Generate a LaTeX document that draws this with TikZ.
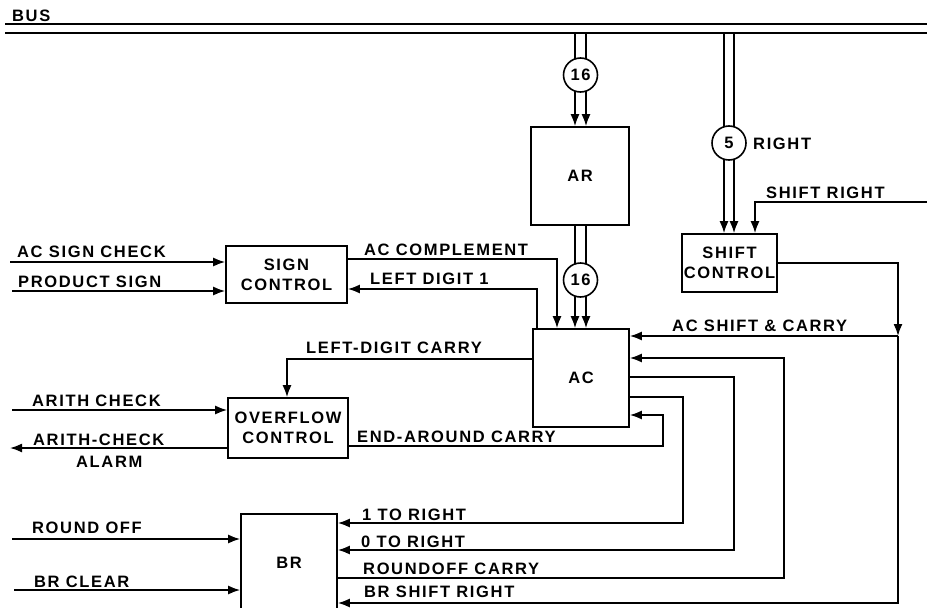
\documentclass[tikz,border=0pt]{standalone}
\usepackage{fontspec}
\newfontfamily\lblfont[LetterSpace=10]{Liberation Sans}
\usetikzlibrary{arrows.meta}
\begin{document}
\begin{tikzpicture}[x=1pt,y=-1pt,
  wire/.style={line width=1.6pt},
  arr/.style={wire,-{Latex[length=12pt,width=9pt]}},
  busline/.style={line width=1.9pt},
  box/.style={draw,line width=1.7pt,inner sep=0pt,align=center,
    font=\lblfont\bfseries\fontsize{16.5}{20}\selectfont},
  lab/.style={anchor=base west,inner sep=0pt,
    font=\lblfont\bfseries\fontsize{16.5}{18}\selectfont},
  ring/.style={circle,draw,fill=white,line width=1.6pt,minimum size=34pt,inner sep=0pt,
    font=\lblfont\bfseries\fontsize{16.5}{18}\selectfont}]
\useasboundingbox (0,0) rectangle (927,608);

% bus
\coordinate (b1l) at (5,24); \coordinate (b1r) at (927,24);
\coordinate (b2l) at (5,33); \coordinate (b2r) at (927,33);
\draw[busline] (b1l) -- (b1r);
\draw[busline] (b2l) -- (b2r);
\node[lab] (lbus) at (12,21) {BUS};

% boxes
\node[box,minimum width=98pt,minimum height=98pt] (ar) at (580,176) {AR};
\node[box,minimum width=96pt,minimum height=98pt] (ac) at (581,378) {AC};
\node[box,minimum width=121pt,minimum height=57pt] (sc) at (286.5,274.5) {SIGN\\CONTROL};
\node[box,minimum width=95pt,minimum height=58pt] (sh) at (729.5,263) {SHIFT\\CONTROL};
\node[box,minimum width=120pt,minimum height=60pt] (ov) at (288,428) {OVERFLOW\\CONTROL};
\node[box,minimum width=96pt,minimum height=130pt,anchor=north] (br) at (289,513) {};
\node[box,draw=none] (brtext) at (289,563) {BR};

% bus to AR
\coordinate (t1) at (575,33); \coordinate (t2) at (586,33);
\draw[arr] (t1) -- (t1 |- ar.north);
\draw[arr] (t2) -- (t2 |- ar.north);
\node[ring] (r1) at (580.5,75) {16};
% AR to AC
\draw[arr] (ar.south -| t1) -- (ac.north -| t1);
\draw[arr] (ar.south -| t2) -- (ac.north -| t2);
\node[ring] (r2) at (580.5,280) {16};

% bus to shift control
\coordinate (t3) at (724,33); \coordinate (t4) at (734,33);
\draw[arr] (t3) -- (t3 |- sh.north);
\draw[arr] (t4) -- (t4 |- sh.north);
\node[ring] (r3) at (729,143) {5};
\node[lab] (lright) at (753,149) {RIGHT};

% shift right input
\coordinate (srin) at (927,202); \coordinate (srk) at (755,202);
\draw[arr] (srin) -- (srk) -- (srk |- sh.north);
\node[lab] (lsr) at (766,198) {SHIFT RIGHT};

% shift control output
\coordinate (j1) at (898,336); \coordinate (c603) at (898,603);
\draw[arr] (sh.east) -| (j1);
\draw[arr] (j1) -- (j1 -| ac.east);
\draw[arr] (j1) -- (c603) -- (c603 -| br.east);
\node[lab] (lasc) at (672,331) {AC SHIFT \& CARRY};

% AC right side
\coordinate (k1) at (784,358); \coordinate (k1b) at (784,578);
\draw[arr] (k1b -| br.east) -- (k1b) -- (k1) -- (k1 -| ac.east);
\coordinate (k2) at (734,377); \coordinate (k2b) at (734,550);
\draw[arr] (k2 -| ac.east) -- (k2) -- (k2b) -- (k2b -| br.east);
\coordinate (k3) at (683,397); \coordinate (k3b) at (683,523);
\draw[arr] (k3 -| ac.east) -- (k3) -- (k3b) -- (k3b -| br.east);
\coordinate (k4) at (663,415); \coordinate (k4b) at (663,446);
\draw[arr] (k4b -| ov.east) -- (k4b) -- (k4) -- (k4 -| ac.east);
\node[lab] (lend) at (357,442) {END-AROUND CARRY};
\node[lab] (l1r) at (362,520) {1 TO RIGHT};
\node[lab] (l0r) at (361,547) {0 TO RIGHT};
\node[lab] (lroc) at (363,574) {ROUNDOFF CARRY};
\node[lab] (lbsr) at (364,597) {BR SHIFT RIGHT};

% AC left / top
\coordinate (m1) at (557,259);
\draw[arr] (m1 -| sc.east) -- (m1) -- (m1 |- ac.north);
\coordinate (m2) at (537,289);
\draw[arr] (m2 |- ac.north) -- (m2) -- (m2 -| sc.east);
\coordinate (m3) at (287,359);
\draw[arr] (m3 -| ac.west) -- (m3) -- (m3 |- ov.north);
\node[lab] (lacc) at (364,255) {AC COMPLEMENT};
\node[lab] (lld1) at (370,284) {LEFT DIGIT 1};
\node[lab] (lldc) at (306,353) {LEFT-DIGIT CARRY};

% left inputs
\coordinate (i1) at (10,262); \draw[arr] (i1) -- (i1 -| sc.west);
\coordinate (i2) at (12,291); \draw[arr] (i2) -- (i2 -| sc.west);
\coordinate (i3) at (12,410); \draw[arr] (i3) -- (i3 -| ov.west);
\coordinate (o1) at (10,448); \draw[arr] (o1 -| ov.west) -- (o1);
\coordinate (i4) at (12,539); \draw[arr] (i4) -- (i4 -| br.west);
\coordinate (i5) at (14,590); \draw[arr] (i5) -- (i5 -| br.west);
\node[lab] (lasg) at (17,257) {AC SIGN CHECK};
\node[lab] (lps) at (18,287) {PRODUCT SIGN};
\node[lab] (lac) at (32,406) {ARITH CHECK};
\node[lab] (lacl) at (33,445) {ARITH-CHECK};
\node[lab] (lal) at (76,467) {ALARM};
\node[lab] (lro) at (32,533) {ROUND OFF};
\node[lab] (lbc) at (34,587) {BR CLEAR};
\end{tikzpicture}
\end{document}
